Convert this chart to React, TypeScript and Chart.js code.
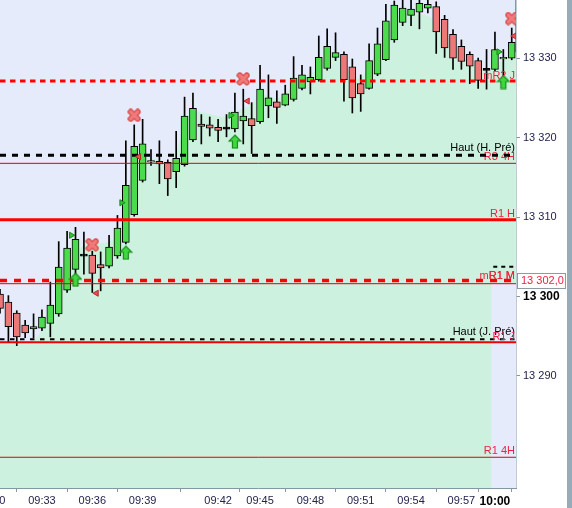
import React, { useEffect, useRef } from "react";
import { Chart, registerables } from "chart.js";

Chart.register(...registerables);

const FONT = '"Liberation Sans", Arial, sans-serif';

// ---- candles (one per bar index) ----
const opens = [13300.3, 13299.3, 13297.9, 13296.4, 13295.9, 13296.0, 13296.6, 13297.8, 13300.8, 13303.4, 13305.2, 13305.2, 13304.0, 13303.8, 13305.1, 13306.8, 13310.3, 13314.6, 13316.9, 13317.0, 13316.9, 13315.7, 13316.6, 13319.7, 13321.7, 13321.6, 13321.3, 13321.2, 13321.1, 13322.1, 13322.4, 13322.0, 13324.0, 13324.5, 13324.1, 13324.8, 13326.2, 13327.0, 13327.3, 13328.7, 13330.1, 13330.5, 13328.9, 13326.8, 13326.2, 13328.0, 13329.8, 13332.3, 13334.5, 13335.4, 13335.8, 13336.3, 13336.5, 13334.9, 13333.0, 13331.5, 13330.5, 13329.7, 13328.6, 13328.6, 13329.9, 13330.0];
const highs = [13300.9, 13300.1, 13298.2, 13297.0, 13297.8, 13298.3, 13301.8, 13306.9, 13308.2, 13308.7, 13308.1, 13305.7, 13305.6, 13307.7, 13310.2, 13319.6, 13321.6, 13322.3, 13318.5, 13319.6, 13317.2, 13320.8, 13325.1, 13325.6, 13322.9, 13322.6, 13322.3, 13322.9, 13325.6, 13326.1, 13324.4, 13329.1, 13327.9, 13325.9, 13326.6, 13330.2, 13329.1, 13328.9, 13332.8, 13333.7, 13333.2, 13330.8, 13329.9, 13327.9, 13331.8, 13333.8, 13336.8, 13337.2, 13337.6, 13337.5, 13337.6, 13337.5, 13337.1, 13335.4, 13333.6, 13332.3, 13330.8, 13330.0, 13331.1, 13333.3, 13331.1, 13333.8];
const lows = [13297.9, 13294.3, 13293.8, 13294.8, 13294.8, 13295.7, 13294.9, 13297.5, 13300.5, 13302.7, 13302.8, 13300.5, 13300.7, 13303.6, 13304.8, 13306.6, 13310.1, 13314.4, 13316.5, 13314.2, 13312.7, 13313.7, 13316.4, 13319.5, 13319.2, 13320.2, 13319.5, 13320.1, 13320.7, 13319.2, 13318.0, 13321.8, 13322.5, 13321.8, 13324.0, 13324.6, 13326.0, 13325.5, 13327.1, 13328.5, 13329.7, 13324.6, 13323.1, 13323.3, 13326.1, 13327.8, 13329.7, 13332.0, 13334.1, 13334.1, 13333.7, 13335.7, 13330.6, 13330.1, 13328.6, 13328.6, 13326.8, 13326.2, 13326.1, 13328.4, 13327.8, 13329.8];
const closes = [13298.5, 13296.2, 13294.9, 13295.4, 13296.2, 13297.4, 13298.9, 13303.7, 13306.1, 13307.2, 13305.2, 13302.9, 13303.6, 13306.2, 13308.6, 13314.0, 13318.9, 13319.2, 13317.1, 13316.7, 13314.8, 13317.4, 13322.7, 13323.7, 13321.4, 13321.2, 13320.9, 13321.2, 13323.2, 13322.7, 13321.5, 13326.1, 13325.0, 13323.8, 13325.5, 13327.5, 13327.9, 13327.6, 13330.1, 13331.5, 13330.7, 13327.3, 13325.0, 13325.5, 13329.7, 13331.8, 13334.7, 13336.7, 13336.3, 13336.2, 13336.9, 13336.8, 13333.3, 13331.3, 13330.0, 13329.6, 13329.0, 13327.2, 13328.6, 13331.1, 13330.1, 13332.0];

// ---- background zone (mint area), from bar index -1 to 62 ----
const zoneStartIndex = -1;
const zoneLevels = [13294.3, 13294.3, 13294.3, 13294.3, 13294.3, 13294.5, 13295.8, 13297.7, 13299.8, 13303.3, 13305.2, 13306.5, 13306.7, 13306.7, 13306.9, 13307.7, 13312.1, 13316.6, 13317.4, 13317.4, 13317.2, 13316.9, 13318.4, 13321.6, 13323.2, 13323.2, 13323.0, 13322.7, 13322.7, 13323.2, 13323.7, 13324.2, 13325.4, 13325.2, 13325.0, 13325.5, 13326.8, 13327.8, 13328.0, 13329.0, 13330.4, 13330.8, 13329.1, 13327.9, 13327.5, 13329.1, 13331.3, 13333.6, 13335.1, 13335.6, 13335.8, 13335.6, 13335.3, 13334.6, 13333.3, 13331.8, 13330.5, 13329.5, 13328.8, 13328.5, 13329.0, 13329.8, 13330.5, 13331.0];
const futureZoneStart = 58.55;
const futureZoneTop = 13301.6;

// ---- axes ----
const X_MIN = 0;
const X_MAX = 61.51;
const Y_MIN = 13275.87;
const Y_MAX = 13337.33;
const timeLabels = ["09:30", "09:33", "09:36", "09:39", "09:42", "09:45", "09:48", "09:51", "09:54", "09:57", "10:00"];
const timeTickIdx = [-1, 5, 11, 17, 26, 31, 37, 43, 49, 55, 59];
const boldTimeLabel = "10:00";
const yTickValues = [13290, 13300, 13310, 13320, 13330];
const boldPrice = 13300;

// ---- horizontal levels (drawn in this order) ----
const levelNames = ["R1 4H", "R3 4H", "Haut (H. Pré)", "R1 H", "R1 M", "mR1 M", "", "Haut (J. Pré)", "R1 J", "mR2 J"];
const levelValues = [13279.74, 13316.76, 13317.77, 13309.66, 13301.6, 13302.0, 13303.74, 13294.6, 13294.22, 13327.13];
const levelStarts = [0, 0, 0, 0, 0, 0, 58.8, 0, 0, 0];
const priceTagText = "13 302,0";
const priceTagLevel = 13302.0;

// ---- signals ----
const sellIdx = [11, 16, 29, 61];
const sellVals = [13306.5, 13322.8, 13327.4, 13335.0];
const buyIdx = [9, 15, 28, 60];
const buyVals = [13302.1, 13305.5, 13319.5, 13327.0];
const flagUpIdx = [8.5, 14.5, 27.5, 59.45];
const flagUpVals = [13307.7, 13311.8, 13322.8, 13330.8];
const flagDownIdx = [11.5, 16.55, 29.5, 61.3];
const flagDownVals = [13300.4, 13317.6, 13324.6, 13332.8];

// ---- styles ----
const RED_TXT = "#f2203f";
const AXIS_TXT = "#23234d";
const AXIS_LINE = "#8397a5";
const LAVENDER = "#e6ebfc";
const MINT = "#cdf1df";
const levelStyles = [
  { color: "#e00000", width: 1, dash: [], text: RED_TXT, off: -3 },
  { color: "#e00000", width: 1, dash: [], text: RED_TXT, off: -3 },
  { color: "#000000", width: 3, dash: [6, 6], text: "#000000", off: -4.5 },
  { color: "#ff0000", width: 3, dash: [], text: RED_TXT, off: -3 },
  { color: "#e00000", width: 1, dash: [], text: RED_TXT, off: -4.5 },
  { color: "#ff0000", width: 3.5, dash: [7, 7], text: RED_TXT, off: -1.5 },
  { color: "#000000", width: 2, dash: [4, 4], text: "#000000", off: 0 },
  { color: "#000000", width: 2, dash: [4.5, 5.5], text: "#000000", off: -4 },
  { color: "#ee0000", width: 2, dash: [], text: RED_TXT, off: -2 },
  { color: "#ff0000", width: 3, dash: [5.5, 4.5], text: RED_TXT, off: -1.7 },
];

function makeXMark(): HTMLCanvasElement {
  const c = document.createElement("canvas");
  c.width = 14; c.height = 14;
  const g = c.getContext("2d")!;
  g.lineCap = "round";
  const stroke = (w: number, col: string) => {
    g.strokeStyle = col; g.lineWidth = w;
    g.beginPath(); g.moveTo(3.5, 3.5); g.lineTo(10.5, 10.5); g.moveTo(10.5, 3.5); g.lineTo(3.5, 10.5); g.stroke();
  };
  stroke(6, "#d94545");
  stroke(3.5, "#f07a7a");
  return c;
}

function makeArrow(): HTMLCanvasElement {
  const c = document.createElement("canvas");
  c.width = 14; c.height = 15;
  const g = c.getContext("2d")!;
  g.beginPath();
  g.moveTo(7, 1); g.lineTo(13, 7); g.lineTo(9.5, 7); g.lineTo(9.5, 14); g.lineTo(4.5, 14); g.lineTo(4.5, 7); g.lineTo(1, 7); g.closePath();
  g.fillStyle = "#3fd83f"; g.fill();
  g.strokeStyle = "#178a17"; g.lineWidth = 1.2; g.stroke();
  return c;
}

const extrasPlugin = {
  id: "extras",
  beforeDraw(chart: any) {
    const { ctx, chartArea } = chart;
    ctx.save();
    ctx.fillStyle = "#ffffff";
    ctx.fillRect(0, 0, chart.width, chart.height);
    ctx.fillStyle = LAVENDER;
    ctx.fillRect(chartArea.left, chartArea.top, chartArea.right - chartArea.left, chartArea.bottom - chartArea.top);
    ctx.restore();
  },
  afterDatasetDraw(chart: any, args: any) {
    const ds = chart.data.datasets[args.index];
    if (!ds.levelLabel) return;
    const { ctx, chartArea } = chart;
    const y = chart.scales.y.getPixelForValue(ds.levelValue);
    ctx.save();
    ctx.font = "11px " + FONT;
    ctx.fillStyle = ds.levelTextColor;
    ctx.textAlign = "right";
    ctx.textBaseline = "alphabetic";
    ctx.fillText(ds.levelLabel, chartArea.right - 1, y + ds.levelTextOff);
    ctx.restore();
  },
  afterDraw(chart: any) {
    const { ctx, chartArea } = chart;
    const xs = chart.scales.x;
    const ys = chart.scales.y;
    ctx.save();
    // first (cut) time label
    ctx.font = "11px " + FONT;
    ctx.fillStyle = AXIS_TXT;
    ctx.textAlign = "center";
    ctx.textBaseline = "middle";
    ctx.fillText(timeLabels[0], xs.getPixelForValue(timeTickIdx[0]), chartArea.bottom + 4 + 2 + 6.6);
    // price tag
    const py = ys.getPixelForValue(priceTagLevel);
    const bx = chartArea.right + 1;
    ctx.fillStyle = "#ffffff";
    ctx.fillRect(bx, py - 7.5, 49, 15);
    ctx.strokeStyle = "#8a9aa6";
    ctx.lineWidth = 1;
    ctx.strokeRect(bx + 0.5, Math.round(py - 7.5) + 0.5, 48, 15);
    ctx.fillStyle = RED_TXT;
    ctx.textAlign = "left";
    ctx.fillText(priceTagText, bx + 4, py + 0.5);
    // right frame bar
    ctx.fillStyle = "#98abb8";
    ctx.fillRect(chart.width - 5, 0, 5, chart.height);
    ctx.restore();
  },
};

function fmtPrice(v: number): string {
  const th = Math.floor(v / 1000);
  const rest = String(Math.round(v - th * 1000)).padStart(3, "0");
  return th + " " + rest;
}

export default function App() {
  const ref = useRef<HTMLCanvasElement | null>(null);

  useEffect(() => {
    document.body.style.margin = "0";
    document.body.style.overflow = "hidden";
    if (!ref.current) return;
    const xMark = makeXMark();
    const arrow = makeArrow();

    const idx = opens.map((_, i) => i);
    const bodyColors = idx.map((i) =>
      closes[i] > opens[i] ? "#4cdb4c" : closes[i] < opens[i] ? "#ec7878" : "#000000"
    );

    const datasets: any[] = [];
    datasets.push({
      type: "line",
      data: zoneLevels.map((v, k) => ({ x: zoneStartIndex + k, y: v })),
      borderWidth: 0,
      pointRadius: 0,
      tension: 0.4,
      fill: "start",
      backgroundColor: MINT,
      order: 40,
    });
    datasets.push({
      type: "line",
      data: [
        { x: futureZoneStart, y: futureZoneTop },
        { x: X_MAX + 1, y: futureZoneTop },
      ],
      borderWidth: 0,
      pointRadius: 0,
      fill: "start",
      backgroundColor: LAVENDER,
      order: 39,
    });
    datasets.push({
      type: "bar",
      data: idx.map((i) => ({ x: i, y: [lows[i], highs[i]] })),
      backgroundColor: "#000000",
      borderWidth: 0,
      barThickness: 1,
      grouped: false,
      order: 30,
    });
    datasets.push({
      type: "bar",
      data: idx.map((i) => ({
        x: i,
        y: opens[i] === closes[i] ? [opens[i] - 0.13, opens[i] + 0.13] : [opens[i], closes[i]],
      })),
      backgroundColor: bodyColors,
      borderColor: "#000000",
      borderWidth: 1,
      borderSkipped: false,
      barThickness: 7,
      grouped: false,
      order: 29,
    });
    levelValues.forEach((v, k) => {
      const st = levelStyles[k];
      datasets.push({
        type: "line",
        data: [
          { x: levelStarts[k], y: v },
          { x: X_MAX + 1, y: v },
        ],
        borderColor: st.color,
        borderWidth: st.width,
        borderDash: st.dash,
        borderCapStyle: "butt",
        pointRadius: 0,
        fill: false,
        tension: 0,
        order: 20 - k,
        levelLabel: levelNames[k],
        levelValue: v,
        levelTextColor: st.text,
        levelTextOff: st.off,
      });
    });
    datasets.push({
      type: "line",
      data: sellIdx.map((x, k) => ({ x, y: sellVals[k] })),
      showLine: false,
      pointStyle: xMark,
      pointRadius: 7,
      order: 4,
    });
    datasets.push({
      type: "line",
      data: buyIdx.map((x, k) => ({ x, y: buyVals[k] })),
      showLine: false,
      pointStyle: arrow,
      pointRadius: 7,
      order: 3,
    });
    datasets.push({
      type: "line",
      data: flagUpIdx.map((x, k) => ({ x, y: flagUpVals[k] })),
      showLine: false,
      pointStyle: "triangle",
      rotation: 90,
      pointRadius: 3.5,
      pointBackgroundColor: "#33c433",
      pointBorderColor: "#168a16",
      pointBorderWidth: 1,
      order: 2,
    });
    datasets.push({
      type: "line",
      data: flagDownIdx.map((x, k) => ({ x, y: flagDownVals[k] })),
      showLine: false,
      pointStyle: "triangle",
      rotation: -90,
      pointRadius: 3.5,
      pointBackgroundColor: "#e65050",
      pointBorderColor: "#b82a2a",
      pointBorderWidth: 1,
      order: 1,
    });

    const chart = new Chart(ref.current, {
      type: "bar",
      data: { datasets },
      options: {
        animation: false,
        responsive: true,
        maintainAspectRatio: false,
        events: [],
        layout: { padding: 0, autoPadding: false },
        plugins: { legend: { display: false }, tooltip: { enabled: false } },
        scales: {
          x: {
            type: "linear",
            position: "bottom",
            min: X_MIN,
            max: X_MAX,
            offset: false,
            afterBuildTicks: (s: any) => {
              s.ticks = timeTickIdx.filter((v) => v >= X_MIN).map((v) => ({ value: v }));
            },
            afterFit: (s: any) => {
              s.height = 20;
              s.paddingLeft = 0;
              s.paddingRight = 0;
              s.paddingTop = 0;
              s.paddingBottom = 0;
            },
            ticks: {
              autoSkip: false,
              maxRotation: 0,
              minRotation: 0,
              padding: 2,
              color: (c: any) => {
                const k = timeTickIdx.indexOf(c.tick ? c.tick.value : NaN);
                return timeLabels[k] === boldTimeLabel ? "#000000" : AXIS_TXT;
              },
              font: (c: any) => {
                const k = timeTickIdx.indexOf(c.tick ? c.tick.value : NaN);
                return timeLabels[k] === boldTimeLabel
                  ? { family: FONT, size: 12, weight: "bold" }
                  : { family: FONT, size: 11 };
              },
              callback: (v: any) => {
                const k = timeTickIdx.indexOf(Number(v));
                return k >= 0 ? timeLabels[k] : "";
              },
            },
            grid: { drawOnChartArea: false, drawTicks: true, tickLength: 4, tickColor: AXIS_LINE },
            border: { display: true, color: AXIS_LINE, width: 1 },
          },
          y: {
            type: "linear",
            position: "right",
            min: Y_MIN,
            max: Y_MAX,
            afterBuildTicks: (s: any) => {
              s.ticks = yTickValues.map((v) => ({ value: v }));
            },
            afterFit: (s: any) => {
              s.width = 56;
              s.paddingTop = 0;
              s.paddingBottom = 0;
              s.paddingLeft = 0;
              s.paddingRight = 0;
            },
            ticks: {
              padding: 3,
              color: (c: any) => (c.tick && c.tick.value === boldPrice ? "#000000" : AXIS_TXT),
              font: (c: any) =>
                c.tick && c.tick.value === boldPrice
                  ? { family: FONT, size: 12, weight: "bold" }
                  : { family: FONT, size: 11 },
              callback: (v: any) => fmtPrice(Number(v)),
            },
            grid: { drawOnChartArea: false, drawTicks: true, tickLength: 4, tickColor: AXIS_LINE },
            border: { display: true, color: AXIS_LINE, width: 1.5 },
          },
        },
      } as any,
      plugins: [extrasPlugin as any],
    });
    return () => chart.destroy();
  }, []);

  return (
    <div style={{ position: "fixed", left: 0, top: 0, width: 572, height: 508, background: "#ffffff" }}>
      <canvas ref={ref} />
    </div>
  );
}
